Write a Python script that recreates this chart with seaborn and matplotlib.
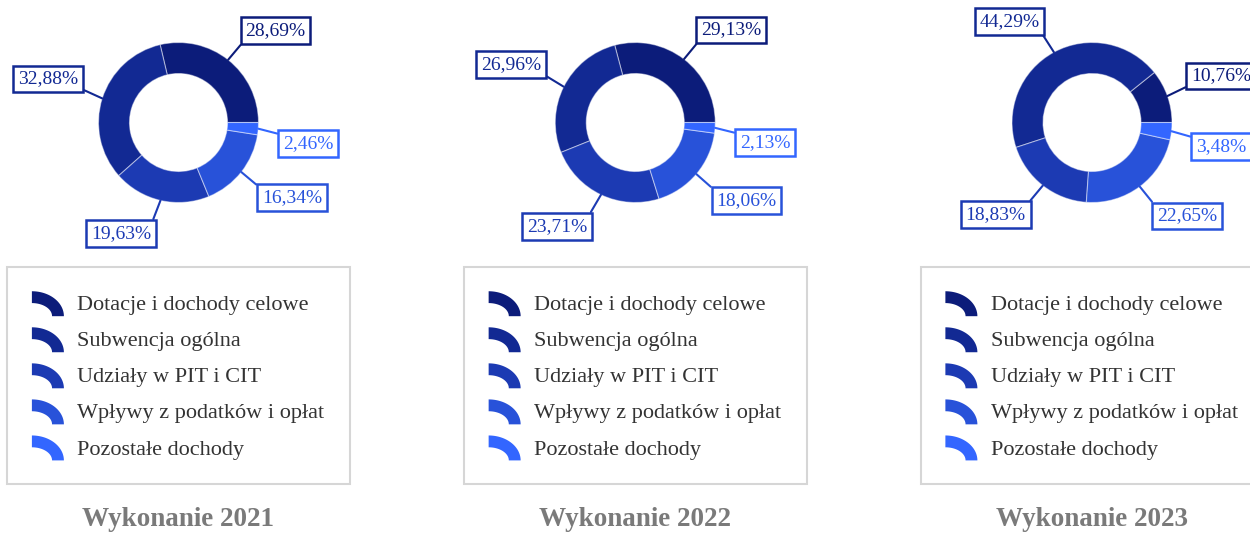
import numpy as np
import matplotlib
matplotlib.use("Agg")
import matplotlib.pyplot as plt
import seaborn as sns
from matplotlib.patches import Patch, Polygon
from matplotlib.legend_handler import HandlerBase

# ---------------- data ----------------
categories = ["Dotacje i dochody celowe", "Subwencja ogólna", "Udziały w PIT i CIT",
              "Wpływy z podatków i opłat", "Pozostałe dochody"]
titles = ["Wykonanie 2021", "Wykonanie 2022", "Wykonanie 2023"]
values_2021 = [28.69, 32.88, 19.63, 16.34, 2.46]
values_2022 = [29.13, 26.96, 23.71, 18.06, 2.13]
values_2023 = [10.76, 44.29, 18.83, 22.65, 3.48]
colors = ["#0c1c7a", "#122993", "#1c3ab3", "#2852d9", "#3366ff"]

sns.set_theme(style="white")
plt.rcParams["font.family"] = ["Liberation Serif", "DejaVu Serif"]

W, H, DPI = 1250, 533, 100
fig = plt.figure(figsize=(W / DPI, H / DPI), dpi=DPI)
ax = fig.add_axes([0, 0, 1, 1])


class ArcHandler(HandlerBase):
    def create_artists(self, legend, orig_handle, xdescent, ydescent,
                       width, height, fontsize, trans):
        t = np.linspace(0, np.pi / 2, 40)
        x0, y0 = -xdescent, -ydescent - 0.12 * height
        rx, ry = width, height * 1.15
        th = 0.37 * width
        outer = np.c_[x0 + rx * np.cos(t), y0 + ry * np.sin(t)]
        inner = np.c_[x0 + (rx - th) * np.cos(t[::-1]), y0 + (ry - th) * np.sin(t[::-1])]
        p = Polygon(np.vstack([outer, inner]), closed=True,
                    facecolor=orig_handle.get_facecolor(), edgecolor="none",
                    transform=trans)
        return [p]


panel_w = 456.75
R = 80.0
ring = 31.0
label_fs = 14
legend_fs = 16
pad = 0.25
pad_px = pad * label_fs * DPI / 72

all_values = [values_2021, values_2022, values_2023]
legends = []
for i, vals in enumerate(all_values):
    cx = 178.5 + i * panel_w
    cy = H - 122.5
    wedges, _ = ax.pie(vals, colors=colors, startangle=0, counterclock=True,
                       radius=R, center=(cx, cy),
                       wedgeprops=dict(width=ring, edgecolor=(1, 1, 1, 0.45), linewidth=0.8))
    for w, v, c in zip(wedges, vals, colors):
        mid = np.deg2rad((w.theta1 + w.theta2) / 2)
        cs, sn = np.cos(mid), np.sin(mid)
        ha = "left" if cs >= 0 else "right"
        va = "bottom" if sn > 0 else "top"
        ex = cx + 1.25 * R * cs
        ey = cy + 1.25 * R * sn
        tx = ex + (pad_px if ha == "left" else -pad_px)
        ty = ey + (pad_px if va == "bottom" else -pad_px)
        relpos = (0 if ha == "left" else 1, 0 if va == "bottom" else 1)
        label = f"{v:.2f}".replace(".", ",") + "%"
        ax.annotate(label, xy=(cx + R * cs, cy + R * sn), xytext=(tx, ty),
                    ha=ha, va=va, fontsize=label_fs, color=c,
                    bbox=dict(boxstyle=f"square,pad={pad}", fc="white", ec=c, lw=1.8),
                    arrowprops=dict(arrowstyle="-", color=c, lw=1.5, shrinkA=0, shrinkB=0,
                                    relpos=relpos))
    handles = [Patch(facecolor=c) for c in colors]
    leg = ax.legend(handles, categories, loc="upper left",
                    bbox_to_anchor=(cx - 171.5, H - 486, 343, 219),
                    bbox_transform=ax.transData, mode="expand", borderaxespad=0,
                    fontsize=legend_fs, handler_map={Patch: ArcHandler()},
                    handlelength=1.44, handleheight=1.125, handletextpad=0.6,
                    borderpad=1.12, labelspacing=0.57, frameon=True, fancybox=False,
                    edgecolor="#cccccc", labelcolor="#333333")
    leg.get_frame().set_linewidth(1.5)
    legends.append(leg)
    ax.text(cx, 7, titles[i], ha="center", va="baseline", fontsize=19.5,
            fontweight="bold", color="#7a7a7a")

for leg in legends[:-1]:
    ax.add_artist(leg)

ax.set_xlim(0, W)
ax.set_ylim(0, H)
ax.set_aspect("equal")
ax.axis("off")
fig.savefig("out.png", dpi=DPI)
